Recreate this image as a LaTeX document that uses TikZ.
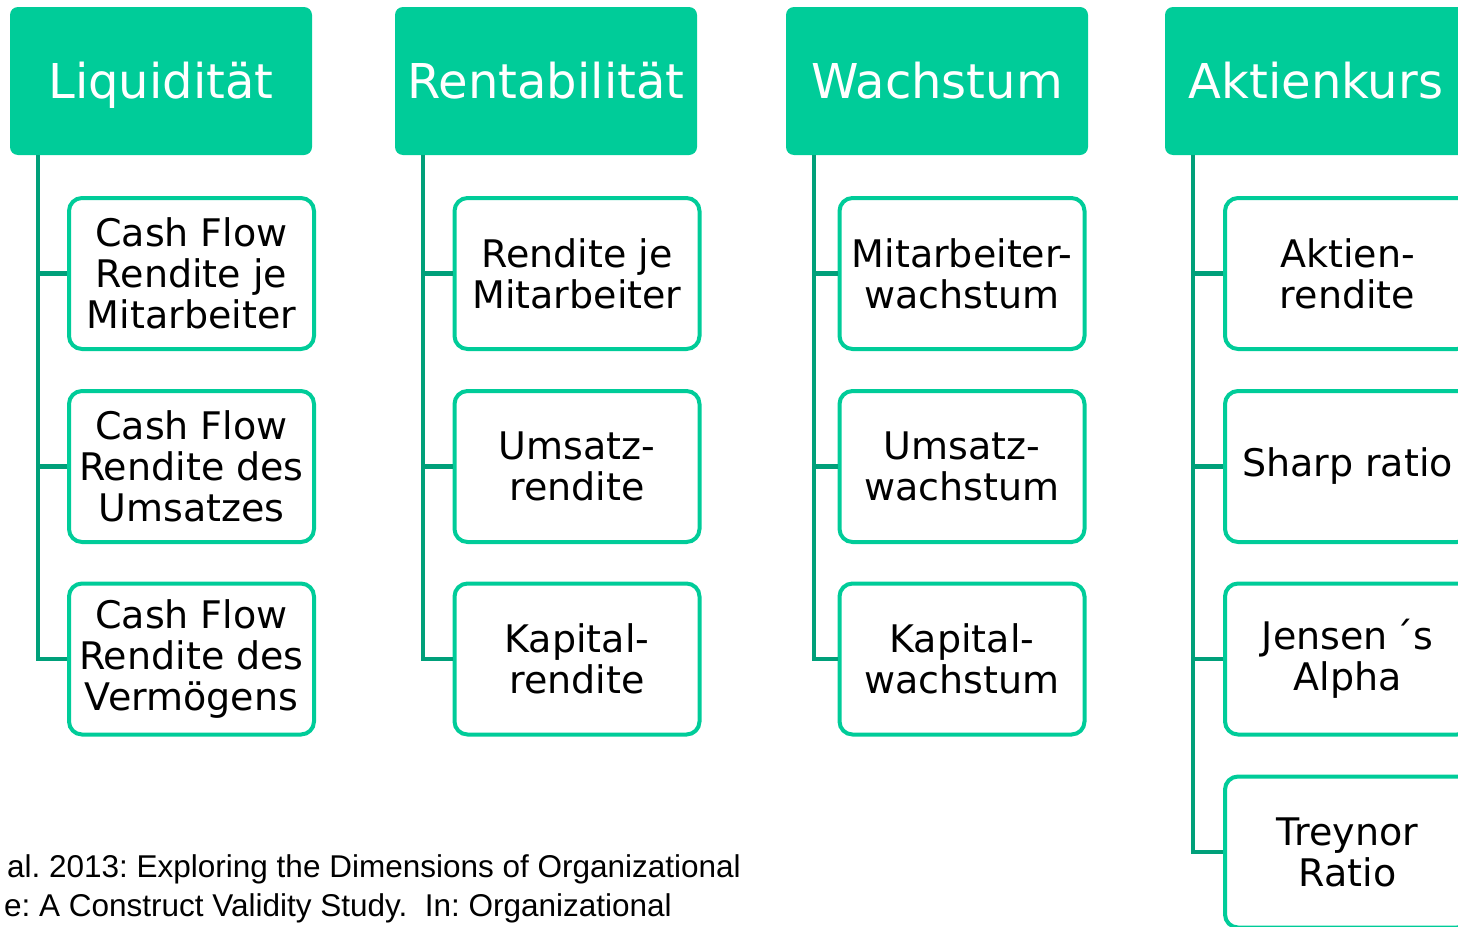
\documentclass[tikz,border=0pt]{standalone}
\usepackage{fontspec}
\setmainfont{DejaVu Sans}
\newfontfamily\citefont{Liberation Sans}
\definecolor{hdr}{RGB}{0,204,153}
\definecolor{lnk}{RGB}{0,160,122}
\frenchspacing
\begin{document}
\begin{tikzpicture}[x=1pt,y=-1pt,
  header/.style={fill=hdr,draw=none,rounded corners=8pt,minimum width=302pt,minimum height=148pt,inner sep=0pt,
    text height=40pt,text depth=6pt,text=white,font=\fontsize{48}{54}\selectfont},
  child/.style={draw=hdr,line width=4pt,fill=white,rounded corners=13pt,minimum width=245pt,minimum height=151pt,inner sep=0pt,
    align=center,text=black,font=\fontsize{38}{41}\selectfont},
  conn/.style={draw=lnk,line width=4.5pt},
  cite/.style={anchor=base east,inner sep=0pt,font=\citefont\fontsize{31.5}{36}\selectfont\frenchspacing}]
\useasboundingbox (0,0) rectangle (1458,926);
\clip (0,0) rectangle (1458,926);
% headers
\node[header] (h1) at (161,81) {Liquidität};
\node[header] (h2) at (546,81) {Rentabilität};
\node[header] (h3) at (937,81) {Wachstum};
\node[header] (h4) at (1316,81) {Aktienkurs};
% trunk tops
\coordinate (t1) at ([xshift=28pt]h1.south west);
\coordinate (t2) at ([xshift=28pt]h2.south west);
\coordinate (t3) at ([xshift=28pt]h3.south west);
\coordinate (t4) at ([xshift=28pt]h4.south west);
% children
\node[child] (c11) at (191.5,273.5) {Cash Flow\\Rendite je\\Mitarbeiter};
\node[child] (c12) at (191.5,466.5) {Cash Flow\\Rendite des\\Umsatzes};
\node[child] (c13) at (191.5,659) {Cash Flow\\Rendite des\\Vermögens};
\node[child] (c21) at (577,273.5) {Rendite je\\Mitarbeiter};
\node[child] (c22) at (577,466.5) {Umsatz-\\rendite};
\node[child] (c23) at (577,659) {Kapital-\\rendite};
\node[child] (c31) at (962,273.5) {Mitarbeiter-\\wachstum};
\node[child] (c32) at (962,466.5) {Umsatz-\\wachstum};
\node[child] (c33) at (962,659) {Kapital-\\wachstum};
\node[child] (c41) at (1347.5,273.5) {Aktien-\\rendite};
\node[child] (c42) at (1347.5,466.5) {Sharp ratio};
\node[child] (c43) at (1347.5,659) {Jensen\,´s\\Alpha};
\node[child] (c44) at (1347.5,852) {Treynor\\Ratio};
% connectors
\draw[conn] (t1) |- (c13.west);
\draw[conn] (t1 |- c11.west) -- (c11.west);
\draw[conn] (t1 |- c12.west) -- (c12.west);
\draw[conn] (t2) |- (c23.west);
\draw[conn] (t2 |- c21.west) -- (c21.west);
\draw[conn] (t2 |- c22.west) -- (c22.west);
\draw[conn] (t3) |- (c33.west);
\draw[conn] (t3 |- c31.west) -- (c31.west);
\draw[conn] (t3 |- c32.west) -- (c32.west);
\draw[conn] (t4) |- (c44.west);
\draw[conn] (t4 |- c41.west) -- (c41.west);
\draw[conn] (t4 |- c42.west) -- (c42.west);
\draw[conn] (t4 |- c43.west) -- (c43.west);
% citation
\node[cite] (q1) at (741,877) {al. 2013: Exploring the Dimensions of Organizational};
\node[cite] (q2) at (672,916) {e: A Construct Validity Study.\ \ In: Organizational};
\end{tikzpicture}
\end{document}
